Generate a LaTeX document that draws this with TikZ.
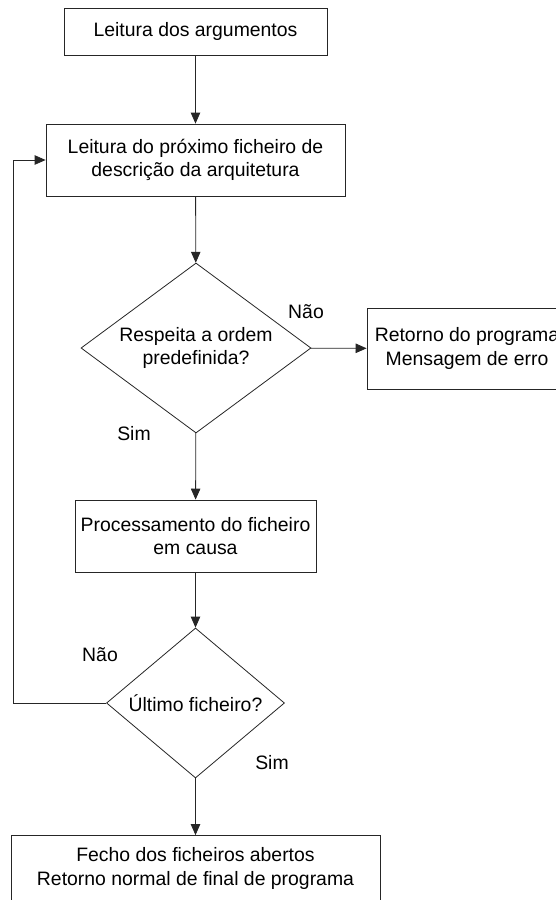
\documentclass[tikz,border=0pt]{standalone}
\usepackage{fontspec}
\setmainfont{Liberation Sans}
\usetikzlibrary{shapes.geometric,arrows.meta}
\begin{document}
\begin{tikzpicture}[x=1pt,y=-1pt,
  every node/.style={font=\fontsize{19.4}{23.5}\selectfont, text=black},
  proc/.style={draw=black!85, line width=0.8pt, fill=white, rectangle, inner sep=0pt, align=center},
  decision/.style={draw=black!85, line width=0.8pt, fill=white, diamond, inner sep=0pt},
  flow/.style={draw=black!85, line width=0.8pt, -{Triangle[length=11pt,width=9.5pt]}},
  plain/.style={draw=black!85, line width=0.8pt},
  tag/.style={inner sep=0pt}
]
\useasboundingbox (0,0) rectangle (556,900);
\clip (0,0) rectangle (556,900);

% process boxes
\node[proc, minimum width=263pt, minimum height=47pt] (args) at (195.5,31.5) {Leitura dos argumentos};
\node[proc, minimum width=299pt, minimum height=72pt] (next) at (195.5,160) {Leitura do próximo ficheiro de\\descrição da arquitetura};
\node[decision, minimum width=230pt, minimum height=170pt,
      label={[align=center, inner sep=0pt]center:Respeita a ordem\\predefinida?}] (order) at (196,348) {};
\node[proc, minimum width=200pt, minimum height=81pt] (err) at (467,348.5) {Retorno do programa\\Mensagem de erro};
\node[proc, minimum width=241pt, minimum height=72pt] (proc) at (195.5,536) {Processamento do ficheiro\\em causa};
\node[decision, minimum width=178pt, minimum height=150pt,
      label={[inner sep=0pt]center:Último ficheiro?}] (last) at (195.5,703) {};
\node[proc, minimum width=369pt, minimum height=66pt] (close) at (195.5,868.5) {Fecho dos ficheiros abertos\\Retorno normal de final de programa};

% branch labels
\node[tag] (no1) at (306,312) {Não};
\node[tag] (yes1) at (134,434) {Sim};
\node[tag] (no2) at (100,655) {Não};
\node[tag] (yes2) at (272,763) {Sim};

% connectors
\coordinate (loopdown) at (13,703);
\coordinate (loopup) at (13,160);
\draw[flow] (args) -- (next);
\draw[flow] (next) -- (order);
\draw[flow] (order) -- (err);
\draw[flow] (order) -- (proc);
\draw[flow] (proc) -- (last);
\draw[flow] (last) -- (close);
\draw[plain] (last.west) -- (loopdown) -- (loopup);
\draw[flow] (loopup) -- (next.west);
\end{tikzpicture}
\end{document}
